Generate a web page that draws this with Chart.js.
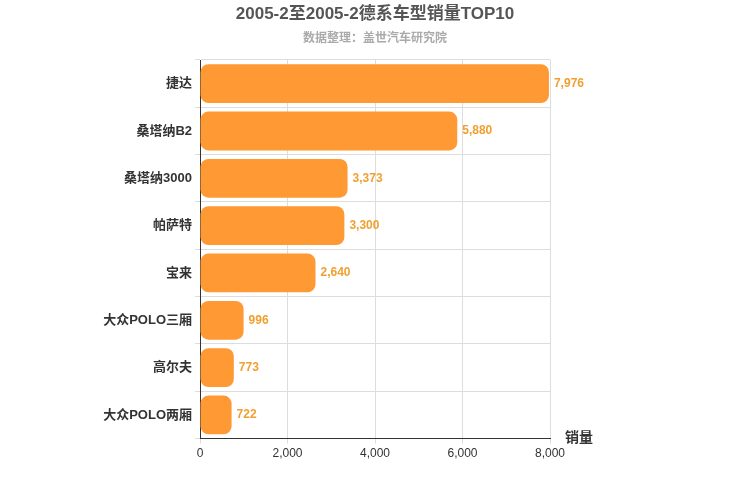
<!DOCTYPE html>
<html><head><meta charset="utf-8">
<script src="https://cdn.jsdelivr.net/npm/chart.js@4/dist/chart.umd.min.js"></script>
<style>html,body{margin:0;padding:0;background:#fff}#w{width:750px;height:500px}</style>
</head><body><div id="w"><canvas id="c"></canvas></div>
<script>
const categories = ["捷达","桑塔纳B2","桑塔纳3000","帕萨特","宝来","大众POLO三厢","高尔夫","大众POLO两厢"];
const sales = [7976,5880,3373,3300,2640,996,773,722];
const xTicks = [0,2000,4000,6000,8000];
const FONT = '"Liberation Sans","Noto Sans CJK SC",sans-serif';
const fmt = v => v.toLocaleString('en-US');
const extras = {
  id:'extras',
  afterDatasetsDraw(ch){
    const ctx=ch.ctx, m=ch.getDatasetMeta(0);
    ctx.save();
    ctx.font='bold 12px '+FONT; ctx.fillStyle='#F0A030'; ctx.textBaseline='middle'; ctx.textAlign='left';
    m.data.forEach((b,i)=>ctx.fillText(fmt(sales[i]), b.x+5, b.y));
    ctx.font='bold 14px '+FONT; ctx.fillStyle='#333';
    ctx.fillText('销量', ch.chartArea.right+15, ch.chartArea.bottom);
    ctx.textAlign='center';
    ctx.font='bold 17px '+FONT; ctx.fillStyle='#555';
    ctx.fillText('2005-2至2005-2德系车型销量TOP10', 375, 14);
    ctx.font='bold 12px '+FONT; ctx.fillStyle='#aaa';
    ctx.fillText('数据整理：盖世汽车研究院', 375, 39);
    ctx.restore();
  }
};
new Chart(document.getElementById('c'),{
  type:'bar',
  data:{labels:categories,datasets:[{data:sales,backgroundColor:'#FF9933',borderRadius:8,borderSkipped:false,categoryPercentage:0.82,barPercentage:1}]},
  options:{
    indexAxis:'y',responsive:true,maintainAspectRatio:false,animation:false,
    layout:{padding:{top:60,right:200,left:0,bottom:36}},
    plugins:{legend:{display:false},tooltip:{enabled:false}},
    scales:{
      x:{min:0,max:8000,afterBuildTicks:a=>{a.ticks=xTicks.map(v=>({value:v}));},
        ticks:{callback:v=>fmt(v),color:'#333',font:{family:FONT,size:12}},
        grid:{color:'#ddd',drawTicks:true,tickLength:5},border:{color:'#333',width:1}},
      y:{grid:{color:'#ddd',offset:true,tickLength:5},border:{color:'#333',width:1},
        ticks:{color:'#333',font:{family:FONT,size:13,weight:'bold'}},
        afterFit:s=>{s.width=200;}}
    }
  },
  plugins:[extras]
});
</script></body></html>
